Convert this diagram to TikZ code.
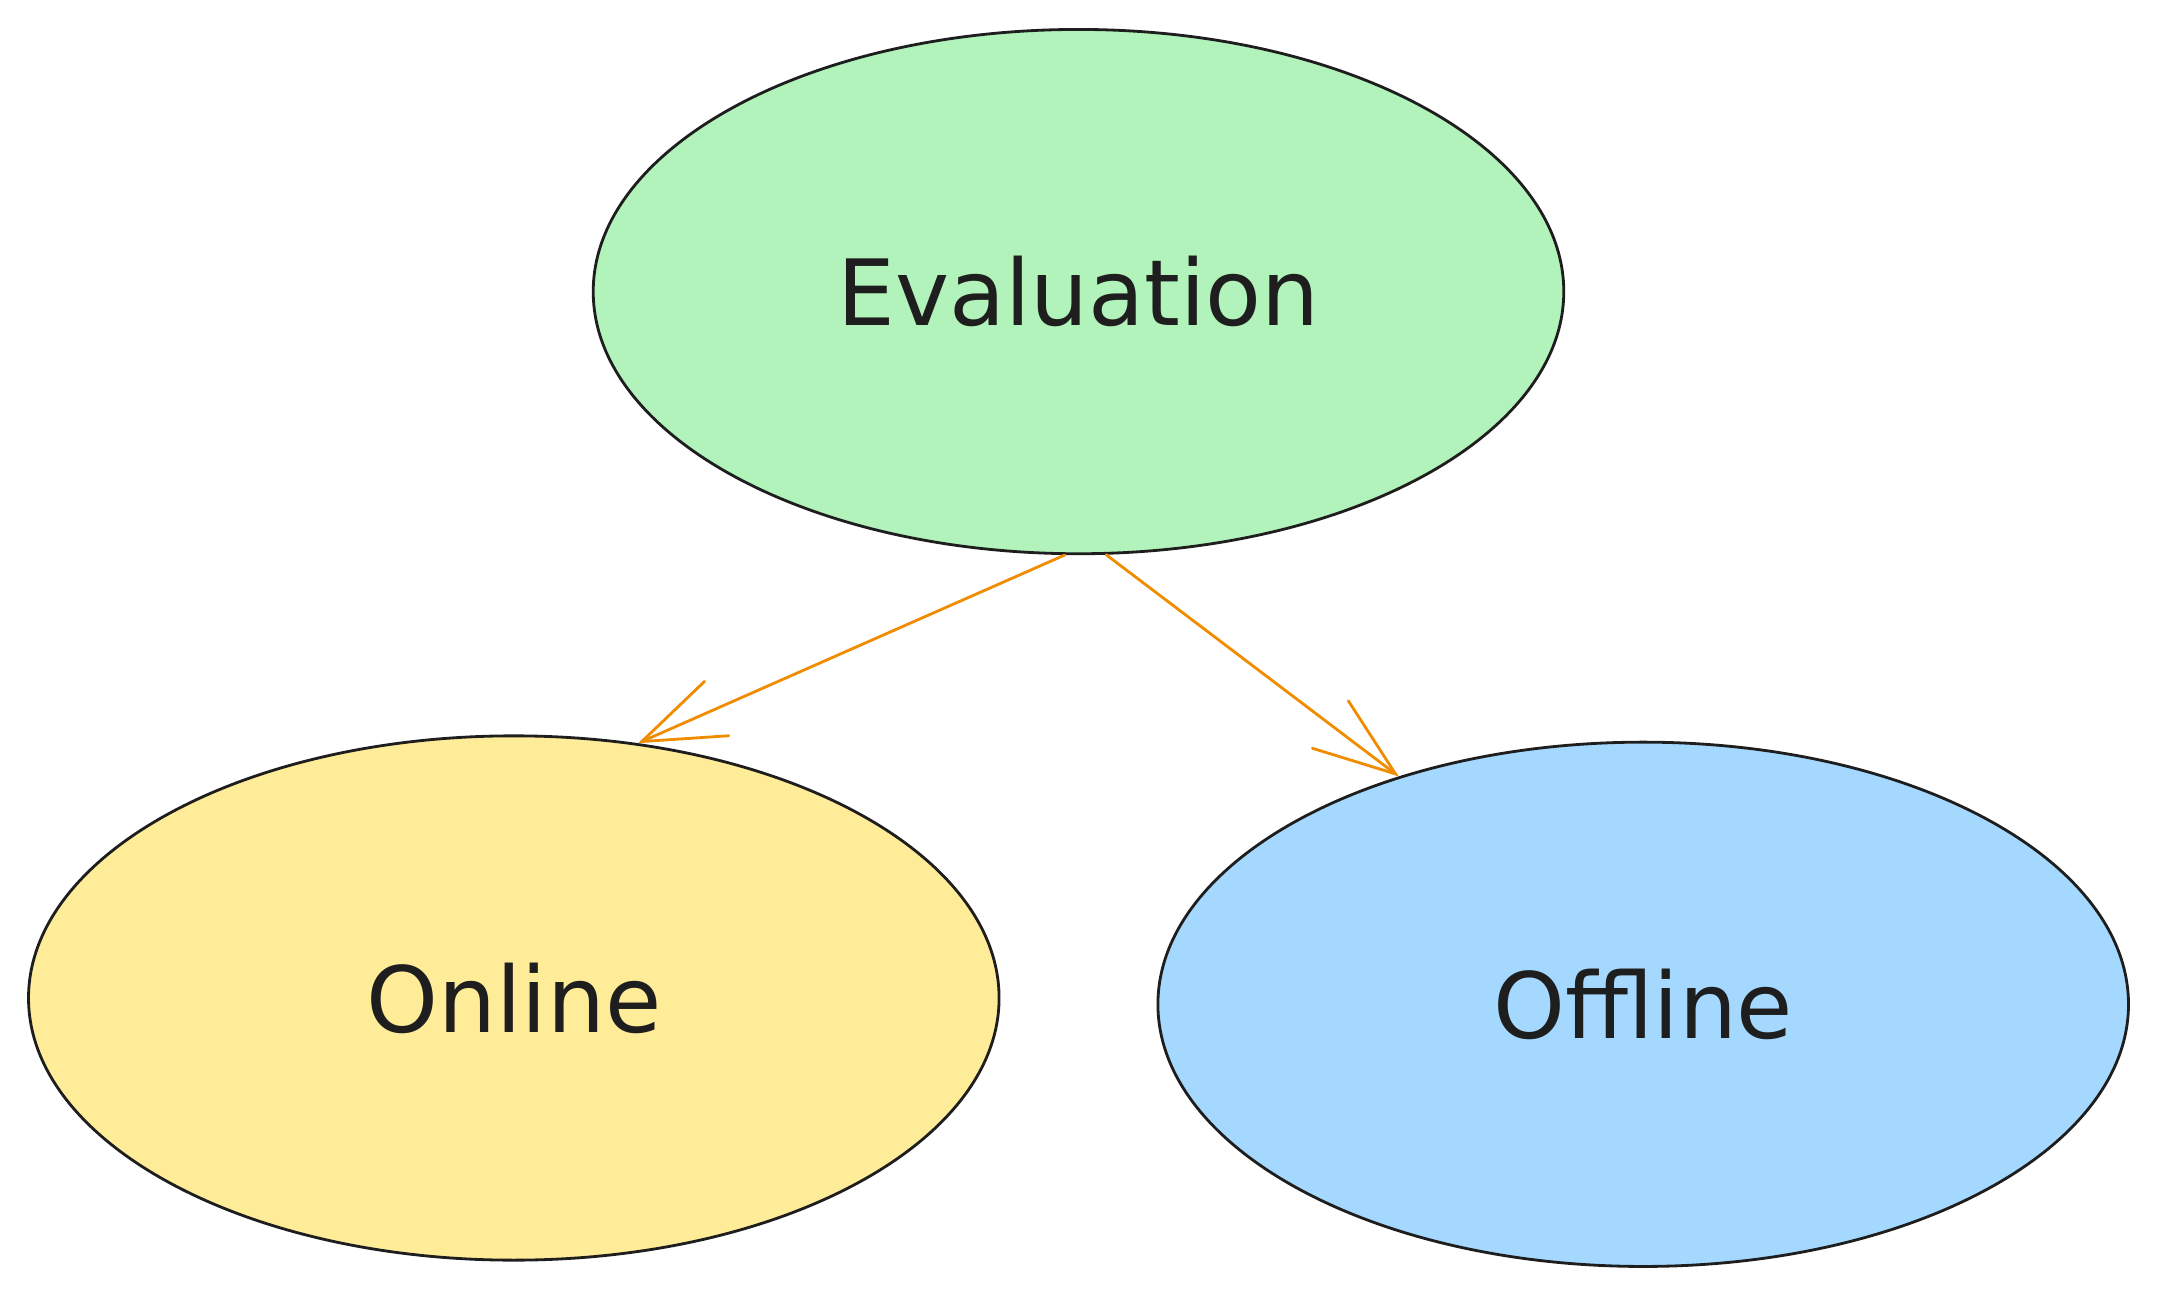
\documentclass[tikz,border=0pt]{standalone}
\usepackage{fontspec}
\setmainfont{DejaVu Sans}
\usepackage{tikz}
\usetikzlibrary{arrows.meta, shapes.geometric}
\definecolor{ink}{HTML}{1E1E1E}
\definecolor{evalgreen}{HTML}{B2F2BB}
\definecolor{onyellow}{HTML}{FFEC99}
\definecolor{offblue}{HTML}{A5D8FF}
\definecolor{arroworange}{HTML}{F08C00}
\tikzstyle{blob} = [ellipse, draw=ink, line width=0.8pt, minimum width=9.7cm, minimum height=5.24cm, inner sep=0pt, text=ink, font=\fontsize{26}{30}\selectfont]
\tikzstyle{evalblob} = [blob, fill=evalgreen]
\tikzstyle{onblob} = [blob, fill=onyellow]
\tikzstyle{offblob} = [blob, fill=offblue]
\tikzstyle{path} = [-{Straight Barb[angle=40:0.87cm, line cap=round]}, line width=0.8pt, draw=arroworange, line cap=round]

\begin{document}
\begin{tikzpicture}[x=0.01cm, y=0.01cm]
    \useasboundingbox (0,0) rectangle (2157,1296);

    % Nodes.
    \node (evaluation) [evalblob] at (1078.5,1004.4) {Evaluation};
    \node (online) [onblob] at (513.8,298) {Online};
    \node (offline) [offblob] at (1643.2,291.7) {Offline};

    % Arrows.
    \draw [path] (evaluation.267.6) -- (online.64.7);
    \draw [path] (evaluation.-84.6) -- (offline.137.1);
\end{tikzpicture}
\end{document}
